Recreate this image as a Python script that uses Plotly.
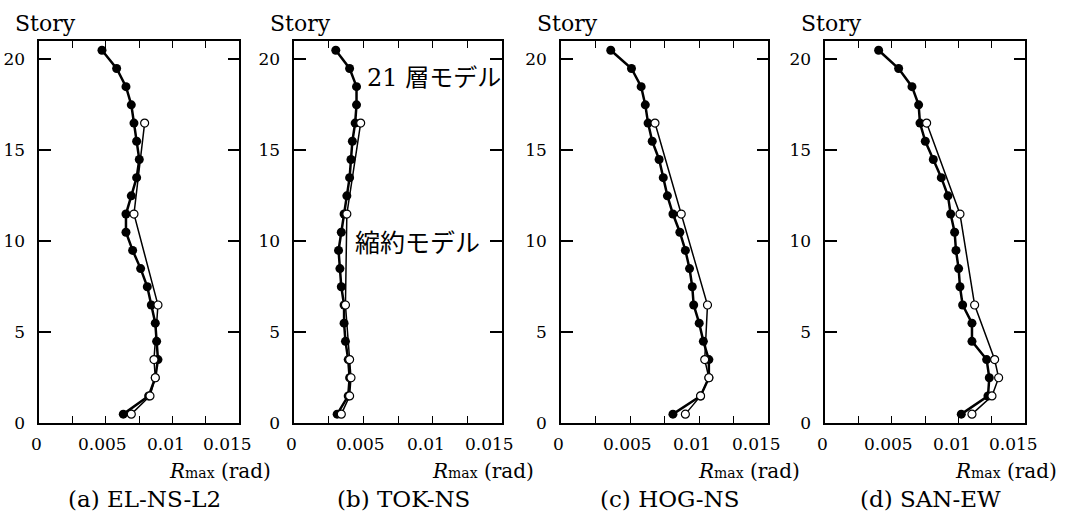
import plotly.graph_objects as go

# Story mid-heights (21-story model) and stories kept in the reduced model
stories_full = [0.5, 1.5, 2.5, 3.5, 4.5, 5.5, 6.5, 7.5, 8.5, 9.5, 10.5,
                11.5, 12.5, 13.5, 14.5, 15.5, 16.5, 17.5, 18.5, 19.5, 20.5]
stories_reduced = [0.5, 1.5, 2.5, 3.5, 6.5, 11.5, 16.5]

# Maximum story drift angle R_max (rad): 21-story model
full_a = [0.0063, 0.0082, 0.0087, 0.0089, 0.0088, 0.0087, 0.0084, 0.0081, 0.0076, 0.0070, 0.0065,
          0.0065, 0.0069, 0.0073, 0.0075, 0.0073, 0.0071, 0.0069, 0.0065, 0.0058, 0.0047]
full_b = [0.0031, 0.0039, 0.0040, 0.0039, 0.0037, 0.0036, 0.0036, 0.0034, 0.0033, 0.0032, 0.0034,
          0.0036, 0.0038, 0.0040, 0.0041, 0.0042, 0.0044, 0.0045, 0.0045, 0.0040, 0.0030]
full_c = [0.0081, 0.0101, 0.0107, 0.0107, 0.0103, 0.0100, 0.0096, 0.0095, 0.0093, 0.0090, 0.0086,
          0.0081, 0.0077, 0.0074, 0.0071, 0.0066, 0.0063, 0.0061, 0.0058, 0.0051, 0.0036]
full_d = [0.0102, 0.0122, 0.0123, 0.0121, 0.0110, 0.0110, 0.0103, 0.0101, 0.0100, 0.0098, 0.0097,
          0.0094, 0.0092, 0.0087, 0.0081, 0.0075, 0.0071, 0.0070, 0.0065, 0.0055, 0.0040]

# Maximum story drift angle R_max (rad): reduced model
red_a = [0.0069, 0.0083, 0.0087, 0.0086, 0.0089, 0.0071, 0.0079]
red_b = [0.0034, 0.0040, 0.0041, 0.0040, 0.0037, 0.0038, 0.0048]
red_c = [0.0090, 0.0101, 0.0107, 0.0104, 0.0106, 0.0087, 0.0068]
red_d = [0.0110, 0.0125, 0.0130, 0.0127, 0.0112, 0.0101, 0.0076]

panel_titles = ["(a) EL-NS-L2", "(b) TOK-NS", "(c) HOG-NS", "(d) SAN-EW"]
x_tickvals = [0, 0.0025, 0.005, 0.0075, 0.01, 0.0125, 0.015]
x_labelvals = [0, 0.005, 0.01, 0.015]
x_labeltext = ["0", "0.005", "0.01", "0.015"]
y_tickvals = [0, 5, 10, 15, 20]

W, H = 1073, 522
SERIF = "DejaVu Serif, Noto Sans CJK JP"

# panel frames in pixels: (left, right)
frames_px = [(39.3, 239.3), (294.3, 501.7), (561.0, 768.3), (825.3, 1025.3)]
top_px, bottom_px = 42.0, 431.5
# horizontal nudges (px) of the x tick labels, set by hand
label_nudge_px = [-3, -3, -7, -12]

fig = go.Figure()
full_series = [full_a, full_b, full_c, full_d]
red_series = [red_a, red_b, red_c, red_d]

for i in range(4):
    sfx = "" if i == 0 else str(i + 1)
    fig.add_trace(go.Scatter(
        x=full_series[i], y=stories_full, xaxis="x" + sfx, yaxis="y" + sfx,
        mode="lines+markers", showlegend=False,
        line=dict(color="black", width=2.5),
        marker=dict(symbol="circle", size=9, color="black"),
    ))
    fig.add_trace(go.Scatter(
        x=red_series[i], y=stories_reduced, xaxis="x" + sfx, yaxis="y" + sfx,
        mode="lines+markers", showlegend=False,
        line=dict(color="black", width=1.5),
        marker=dict(symbol="circle", size=8, color="white",
                    line=dict(color="black", width=1.2)),
    ))

layout = dict(
    width=W, height=H,
    margin=dict(l=0, r=0, t=0, b=0),
    paper_bgcolor="white", plot_bgcolor="white",
    font=dict(family=SERIF, size=17, color="black"),
)

annotations = []
for i, (l, r) in enumerate(frames_px):
    sfx = "" if i == 0 else str(i + 1)
    layout["xaxis" + sfx] = dict(
        domain=[l / W, r / W], range=[0, 0.015], anchor="y" + sfx,
        tickvals=x_tickvals, showticklabels=False,
        ticks="inside", ticklen=7, tickwidth=1.3, tickcolor="black",
        showline=True, linecolor="black", linewidth=1.5, mirror="ticks",
        showgrid=False, zeroline=False,
    )
    layout["yaxis" + sfx] = dict(
        domain=[1 - bottom_px / H, 1 - top_px / H], range=[0, 21], anchor="x" + sfx,
        tickvals=y_tickvals,
        ticks="inside", ticklen=12, tickwidth=1.5, tickcolor="black",
        showline=True, linecolor="black", linewidth=1.5, mirror="ticks",
        showgrid=False, zeroline=False, ticklabelstandoff=9,
        tickfont=dict(family=SERIF, size=17),
    )
    # x tick labels
    for val, txt, nudge in zip(x_labelvals, x_labeltext, label_nudge_px):
        annotations.append(dict(
            text=txt, xref="x" + sfx, yref="paper", x=val, xshift=nudge,
            y=1 - 453 / H, xanchor="center", yanchor="middle", showarrow=False,
            font=dict(family=SERIF, size=17),
        ))
    xd = "x" + sfx + " domain"
    annotations.append(dict(
        text="Story", xref=xd, yref="paper", x=0, xshift=-26,
        y=1 - 24 / H, xanchor="left", yanchor="middle", showarrow=False,
        font=dict(family=SERIF, size=22),
    ))
    annotations.append(dict(
        text="<i>R</i><span style='font-size:14px'>max</span> (rad)",
        xref=xd, yref="paper", x=1, xshift=-72,
        y=1 - 480 / H, xanchor="left", yanchor="middle", showarrow=False,
        font=dict(family=SERIF, size=20),
    ))
    annotations.append(dict(
        text=panel_titles[i], xref=xd, yref="paper", x=0.5, xshift=5,
        y=1 - 509 / H, xanchor="center", yanchor="middle", showarrow=False,
        font=dict(family=SERIF, size=23),
    ))

annotations.append(dict(
    text="21 層モデル", xref="x2", yref="y2", x=0.0051, y=18.95,
    xanchor="left", yanchor="middle", showarrow=False,
    font=dict(family=SERIF, size=24),
))
annotations.append(dict(
    text="縮約モデル", xref="x2", yref="y2", x=0.00425, y=9.88,
    xanchor="left", yanchor="middle", showarrow=False,
    font=dict(family=SERIF, size=25),
))

layout["annotations"] = annotations
fig.update_layout(**layout)
fig.write_html("out.html")
